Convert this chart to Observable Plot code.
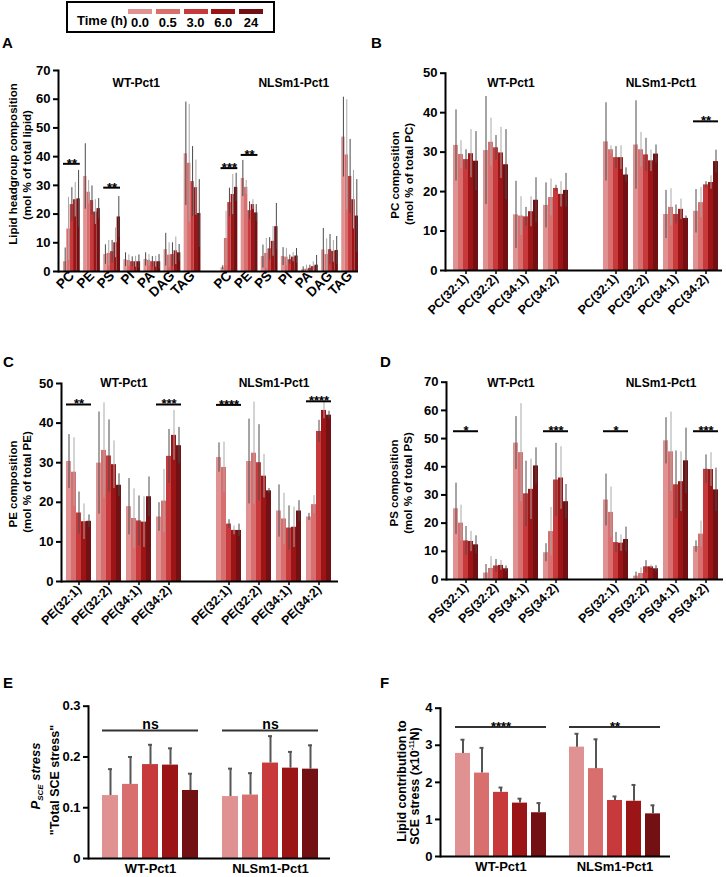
<!DOCTYPE html>
<html><head><meta charset="utf-8">
<script src="https://cdn.jsdelivr.net/npm/d3@7"></script>
<script src="https://cdn.jsdelivr.net/npm/@observablehq/plot@0.6"></script>
<style>
html,body{margin:0;padding:0;background:#fff;}
#page{position:relative;width:726px;height:877px;overflow:hidden;font-family:"Liberation Sans",Arial,Helvetica,sans-serif;color:#000;}
.letter{position:absolute;font-weight:bold;font-size:15px;line-height:1;}
.ylab{position:absolute;font-weight:bold;font-size:11.5px;line-height:1;white-space:nowrap;transform:translate(-50%,-50%) rotate(-90deg);}
.panel{position:absolute;}
.panel svg{display:block;overflow:visible;}
#legend{position:absolute;left:66px;top:1px;width:205px;height:28px;border:2px solid #000;}
.lgtitle{position:absolute;left:9px;top:11px;font-weight:bold;font-size:13px;line-height:1;}
.sw{position:absolute;top:6px;width:24px;height:5px;}
.swl{position:absolute;top:13px;width:24px;text-align:center;font-weight:bold;font-size:13px;line-height:1;}
</style></head>
<body><div id="page"></div>
<script>
// ---------- shared categories ----------
const times = ["0.0", "0.5", "3.0", "6.0", "24"];
const colors = ["#e09292", "#d86e6e", "#c8393b", "#9b1517", "#731013"];
const genotypes = ["WT-Pct1", "NLSm1-Pct1"];

// ---------- Panel A: lipid headgroup composition ----------
const catsA = ["PC", "PE", "PS", "PI", "PA", "DAG", "TAG"];
const aWTMean = [[3.4,14.8,23.3,25.0,25.3],[33.1,27.6,24.7,20.7,21.9],[5.9,6.3,6.9,10.0,19.0],[4.1,3.8,3.4,3.4,3.4],[4.2,3.9,3.4,3.4,3.4],[7.6,5.7,5.9,7.2,6.5],[41.0,37.7,31.3,29.2,20.2]];
const aWTTop  = [[8.2,25.8,29.2,31.0,35.2],[44.5,31.7,29.8,25.0,25.4],[9.3,10.8,10.8,15.2,26.1],[6.5,5.8,5.1,5.3,5.8],[6.5,5.9,5.2,5.3,5.9],[13.3,10.0,10.0,12.0,9.4],[59.0,58.2,43.5,38.8,32.0]];
const aNLMean = [[1.3,11.5,24.0,26.8,29.3],[32.4,29.3,21.2,23.3,20.4],[5.2,6.3,7.9,10.5,15.6],[5.2,5.0,4.1,5.0,5.4],[0.6,0.8,1.1,1.7,2.2],[7.5,5.9,7.6,7.0,7.3],[46.8,40.6,33.1,25.0,19.3]];
const aNLTop  = [[2.0,21.0,29.0,33.8,34.2],[38.7,31.7,24.3,25.0,23.3],[9.2,11.5,11.8,15.7,23.7],[8.3,8.0,5.7,6.6,8.0],[1.6,2.2,2.2,3.4,5.6],[15.0,11.4,12.9,10.8,12.2],[60.7,59.8,46.0,35.2,32.0]];
const aTicks = [0,10,20,30,40,50,60,70];
const aSig = [{g:"WT-Pct1",c:"PC",y:37.5,s:"**"},{g:"WT-Pct1",c:"PS",y:29.2,s:"**"},{g:"NLSm1-Pct1",c:"PC",y:36.0,s:"***"},{g:"NLSm1-Pct1",c:"PE",y:40.6,s:"**"}];

// ---------- Panel B: PC composition ----------
const catsB = ["PC(32:1)", "PC(32:2)", "PC(34:1)", "PC(34:2)"];
const bWTMean = [[31.7,29.4,28.1,29.6,27.7],[30.4,32.5,31.1,29.8,26.8],[14.1,13.8,13.6,14.9,17.8],[16.5,18.5,20.8,19.3,20.3]];
const bWTTop  = [[40.7,32.9,30.6,35.7,35.2],[44.1,38.6,34.2,36.3,35.7],[22.6,18.7,16.0,18.7,23.5],[22.2,23.2,21.6,22.5,24.6]];
const bNLMean = [[32.6,30.6,28.6,28.6,24.2],[31.8,30.6,29.3,27.8,29.5],[14.2,16.0,14.2,15.5,13.2],[15.0,17.2,21.7,22.3,27.6]];
const bNLTop  = [[42.5,31.6,31.4,31.6,26.0],[43.0,35.0,33.5,30.5,31.8],[20.3,20.7,16.6,18.1,13.8],[20.5,21.0,22.5,24.0,30.5]];
const bTicks = [0,10,20,30,40,50];
const bSig = [{g:"NLSm1-Pct1",c:"PC(34:2)",y:37.8,s:"**"}];

// ---------- Panel C: PE composition ----------
const catsC = ["PE(32:1)", "PE(32:2)", "PE(34:1)", "PE(34:2)"];
const cWTMean = [[30.3,27.6,17.3,15.1,15.2],[29.9,33.1,31.7,29.5,24.3],[18.9,15.9,15.3,15.0,21.4],[16.3,20.3,31.6,36.9,34.3]];
const cWTTop  = [[37.1,36.3,22.6,19.6,16.8],[42.8,45.1,40.8,35.5,27.2],[26.0,23.4,21.6,21.4,26.4],[19.9,28.3,38.4,43.2,38.9]];
const cNLMean = [[31.3,28.8,14.5,12.9,12.9],[30.3,32.4,30.0,26.6,22.9],[17.8,15.8,13.5,13.7,17.8],[16.3,19.4,37.9,43.2,42.0]];
const cNLTop  = [[35.0,35.2,15.6,14.0,14.5],[41.0,45.3,39.6,32.1,23.5],[24.4,22.3,19.1,18.8,20.4],[17.2,21.7,40.7,45.3,43.0]];
const cTicks = [0,10,20,30,40,50];
const cSig = [{g:"WT-Pct1",c:"PE(32:1)",y:44.7,s:"**"},{g:"WT-Pct1",c:"PE(34:2)",y:44.7,s:"***"},{g:"NLSm1-Pct1",c:"PE(32:1)",y:44.6,s:"****"},{g:"NLSm1-Pct1",c:"PE(34:2)",y:45.5,s:"****"}];

// ---------- Panel D: PS composition ----------
const catsD = ["PS(32:1)", "PS(32:2)", "PS(34:1)", "PS(34:2)"];
const dWTMean = [[25.1,20.0,13.7,13.5,12.3],[2.3,3.9,4.8,5.0,3.8],[48.4,45.0,30.4,32.0,40.3],[9.5,17.0,35.3,36.0,27.6]];
const dWTTop  = [[34.2,26.4,18.8,17.1,15.5],[5.3,8.1,7.1,6.7,4.8],[57.8,62.4,42.0,42.7,46.7],[12.7,25.6,48.3,47.1,33.7]];
const dNLMean = [[28.2,23.8,13.1,12.9,14.2],[1.2,2.1,4.5,4.5,3.8],[49.2,45.3,33.6,34.7,42.1],[11.7,16.1,39.1,39.0,31.8]];
const dNLTop  = [[37.4,32.8,16.7,15.8,18.6],[2.6,4.1,6.7,5.1,4.9],[57.4,59.4,45.6,45.3,53.7],[13.7,20.7,44.2,45.0,39.5]];
const dTicks = [0,10,20,30,40,50,60,70];
const dSig = [{g:"WT-Pct1",c:"PS(32:1)",y:52.6,s:"*"},{g:"WT-Pct1",c:"PS(34:2)",y:52.6,s:"***"},{g:"NLSm1-Pct1",c:"PS(32:1)",y:52.6,s:"*"},{g:"NLSm1-Pct1",c:"PS(34:2)",y:52.6,s:"***"}];

// ---------- Panel E: P_SCE stress ----------
const eMean = [[0.124,0.146,0.185,0.184,0.134],[0.122,0.125,0.188,0.178,0.176]];
const eTop  = [[0.176,0.200,0.224,0.217,0.167],[0.177,0.168,0.241,0.210,0.223]];
const eTicks = [0,0.1,0.2,0.3];
const eSig = [{g:"WT-Pct1",y:0.252,s:"ns"},{g:"NLSm1-Pct1",y:0.252,s:"ns"}];

// ---------- Panel F: lipid contribution to SCE stress ----------
const fMean = [[2.78,2.25,1.73,1.44,1.18],[2.95,2.37,1.51,1.49,1.15]];
const fTop  = [[3.15,2.93,1.86,1.56,1.44],[3.31,3.16,1.62,1.93,1.38]];
const fTicks = [0,1,2,3,4];
const fSig = [{g:"WT-Pct1",y:3.49,s:"****"},{g:"NLSm1-Pct1",y:3.49,s:"**"}];

const plotStyle = {fontFamily: "Liberation Sans, Arial, sans-serif", fontWeight: "bold", fontSize: "12px", color: "#000", background: "transparent", overflow: "visible"};

function grouped(cfg) {
  const domain = [], rows = [];
  genotypes.forEach((g, gi) => {
    if (gi > 0) for (let k = 0; k < cfg.gap; k++) domain.push(`gap|${k}`);
    cfg.cats.forEach((c, ci) => {
      if (ci > 0) domain.push(`${g}|sp|${ci}`);
      times.forEach((t, ti) => {
        const key = `${g}|${c}|${t}`;
        domain.push(key);
        rows.push({key, g, c, t, ti, v: cfg.mean[gi][ci][ti], top: cfg.top[gi][ci][ti]});
      });
    });
  });
  const n = cfg.cats.length;
  const midKey = g => n % 2 ? `${g}|${cfg.cats[(n - 1) / 2]}|${times[2]}` : `${g}|sp|${n / 2}`;
  const tickKeys = genotypes.flatMap(g => cfg.cats.map(c => `${g}|${c}|${times[2]}`));
  const lo = d => Math.max(0, 2 * d.v - d.top);
  return Plot.plot({
    width: cfg.w, height: cfg.h,
    marginTop: cfg.mt, marginBottom: cfg.mb, marginLeft: cfg.ml, marginRight: cfg.mr,
    style: plotStyle,
    x: {type: "band", domain, padding: 0, insetLeft: cfg.il, insetRight: cfg.ir},
    y: {domain: [0, cfg.ymax]},
    color: {domain: times, range: colors},
    marks: [
      Plot.barY(rows, {x: "key", y: "v", fill: "t"}),
      Plot.ruleX(rows.filter(d => d.ti % 2 === 0), {x: "key", y1: lo, y2: "top", stroke: "#4a4a4a", strokeWidth: 1}),
      Plot.ruleX(rows.filter(d => d.ti % 2 === 1), {x: "key", y1: lo, y2: "top", stroke: "#a8a8a8", strokeWidth: 1}),
      Plot.ruleY([0], {stroke: "#000", strokeWidth: 2}),
      Plot.frame({anchor: "left", stroke: "#000", strokeWidth: 2}),
      Plot.axisY(cfg.yticks, {tickSize: 5, tickPadding: 3, strokeWidth: 2, fontSize: 13, label: null}),
      Plot.axisX(tickKeys, {tickSize: cfg.tickSize, tickPadding: 2, tickRotate: -45, strokeWidth: 1.5, tickFormat: k => k.split("|")[1], fontSize: cfg.xfs, label: null}),
      Plot.text(genotypes, {x: midKey, y: () => cfg.labelY, text: d => d, fontSize: 12, dx: cfg.labelDx || 0}),
      Plot.ruleY(cfg.sig, {x1: d => `${d.g}|${d.c}|${times[0]}`, x2: d => `${d.g}|${d.c}|${times[4]}`, y: "y", stroke: "#000", strokeWidth: 2}),
      Plot.text(cfg.sig, {x: d => `${d.g}|${d.c}|${times[2]}`, y: "y", text: "s", lineAnchor: "bottom", dy: 4, fontSize: 13})
    ]
  });
}

function simple(cfg) {
  const domain = [], rows = [];
  genotypes.forEach((g, gi) => {
    if (gi > 0) domain.push("gap");
    times.forEach((t, ti) => {
      const key = `${g}|${t}`;
      domain.push(key);
      rows.push({key, g, t, ti, v: cfg.mean[gi][ti], top: cfg.top[gi][ti]});
    });
  });
  return Plot.plot({
    width: cfg.w, height: cfg.h,
    marginTop: cfg.mt, marginBottom: cfg.mb, marginLeft: cfg.ml, marginRight: cfg.mr,
    style: plotStyle,
    x: {type: "band", domain, paddingInner: 0.2, paddingOuter: 0, insetLeft: cfg.il, insetRight: cfg.ir},
    y: {domain: [0, cfg.ymax]},
    color: {domain: times, range: colors},
    marks: [
      Plot.barY(rows, {x: "key", y: "v", fill: "t"}),
      Plot.ruleX(rows, {x: "key", y1: "v", y2: "top", stroke: "#555", strokeWidth: 2}),
      Plot.tickY(rows, {x: "key", y: "top", stroke: "#555", strokeWidth: 2, insetLeft: cfg.cap, insetRight: cfg.cap}),
      Plot.ruleY([0], {stroke: "#000", strokeWidth: 2}),
      Plot.frame({anchor: "left", stroke: "#000", strokeWidth: 2}),
      Plot.axisY(cfg.yticks, {tickSize: 5, tickPadding: 3, strokeWidth: 2, fontSize: 13, label: null, tickFormat: cfg.fmt}),
      Plot.axisX(genotypes.map(g => `${g}|${times[2]}`), {tickSize: 0, tickPadding: 5, tickFormat: k => k.split("|")[0], fontSize: 13, label: null}),
      Plot.ruleY(cfg.sig, {x1: d => `${d.g}|${times[0]}`, x2: d => `${d.g}|${times[4]}`, y: "y", stroke: "#333", strokeWidth: 2}),
      Plot.text(cfg.sig, {x: d => `${d.g}|${times[2]}`, y: "y", text: "s", lineAnchor: "bottom", dy: cfg.sigDy, fontSize: cfg.sigSize})
    ]
  });
}

const page = document.getElementById("page");
function place(el, left, top) {
  const d = document.createElement("div");
  d.className = "panel";
  d.style.left = left + "px"; d.style.top = top + "px";
  d.appendChild(el);
  page.appendChild(d);
}
function html(s) { page.insertAdjacentHTML("beforeend", s); }

// legend
const lg = document.createElement("div");
lg.id = "legend";
lg.innerHTML = `<div class="lgtitle">Time (h)</div>` + times.map((t, i) =>
  `<div class="sw" style="left:${60 + i * 27.75}px;background:${colors[i]}"></div><div class="swl" style="left:${60 + i * 27.75}px">${t}</div>`).join("");
page.appendChild(lg);

// panel letters
[["A",2,35],["B",371,35],["C",3,354],["D",380,354],["E",3,675],["F",380,675]].forEach(([t,x,y]) =>
  html(`<div class="letter" style="left:${x}px;top:${y}px">${t}</div>`));

// y labels
html(`<div class="ylab" style="left:14px;top:164px">Lipid headgroup composition</div>`);
html(`<div class="ylab" style="left:28px;top:165px">(mol % of total lipid)</div>`);
html(`<div class="ylab" style="left:396px;top:175px">PC composition</div>`);
html(`<div class="ylab" style="left:410px;top:174px">(mol % of total PC)</div>`);
html(`<div class="ylab" style="left:14px;top:484px">PE composition</div>`);
html(`<div class="ylab" style="left:28px;top:482px">(mol % of total PE)</div>`);
html(`<div class="ylab" style="left:395px;top:483px">PS composition</div>`);
html(`<div class="ylab" style="left:409px;top:483px">(mol % of total PS)</div>`);
html(`<div class="ylab" style="left:37px;top:776px;font-size:13px"><i>P</i><sub style="font-size:8px"><i>SCE</i></sub> <i>stress</i></div>`);
html(`<div class="ylab" style="left:55px;top:780px;font-size:12.5px">"Total SCE stress"</div>`);
html(`<div class="ylab" style="left:402px;top:781px;font-size:12.5px">Lipid contribution to</div>`);
html(`<div class="ylab" style="left:415px;top:786px;font-size:12.5px">SCE stress (x10<sup style="font-size:7px">-11</sup>N)</div>`);

place(grouped({cats: catsA, mean: [aWTMean, aNLMean], top: [aWTTop, aNLTop], sig: aSig, gap: 6, ymax: 70, yticks: aTicks, labelY: 65.5, labelDx: 4,
  w: 363, h: 260, mt: 15, mb: 44, ml: 58, mr: 5, il: 5, ir: 0, tickSize: 0, xfs: 13.5}), 0, 55);
place(grouped({cats: catsB, mean: [bWTMean, bNLMean], top: [bWTTop, bNLTop], sig: bSig, gap: 7, ymax: 50, yticks: bTicks, labelY: 47.4,
  w: 363, h: 260, mt: 17.7, mb: 45, ml: 82, mr: 4, il: 4, ir: 0, tickSize: 4, xfs: 12.5}), 363, 55);
place(grouped({cats: catsC, mean: [cWTMean, cNLMean], top: [cWTTop, cNLTop], sig: cSig, gap: 7, ymax: 50, yticks: cTicks, labelY: 50,
  w: 363, h: 265, mt: 23, mb: 44, ml: 61, mr: 25, il: 2, ir: 4, tickSize: 4, xfs: 12.5}), 0, 360);
place(grouped({cats: catsD, mean: [dWTMean, dNLMean], top: [dWTTop, dNLTop], sig: dSig, gap: 7, ymax: 70, yticks: dTicks, labelY: 69.5,
  w: 363, h: 265, mt: 21.7, mb: 46, ml: 83, mr: 3, il: 2, ir: 1, tickSize: 4, xfs: 12.5}), 363, 360);
place(simple({mean: eMean, top: eTop, sig: eSig, ymax: 0.3, yticks: eTicks, fmt: d => d === 0 ? "0" : d.toFixed(1), cap: 6, sigDy: -2, sigSize: 14,
  w: 363, h: 187, mt: 15.7, mb: 19, ml: 88, mr: 33, il: 9, ir: 8}), 0, 690);
place(simple({mean: fMean, top: fTop, sig: fSig, ymax: 4, yticks: fTicks, fmt: d => String(d), cap: 5.5, sigDy: 4, sigSize: 13,
  w: 363, h: 187, mt: 17.7, mb: 21, ml: 77, mr: 56, il: 10, ir: 5}), 363, 690);
</script>
</body></html>
